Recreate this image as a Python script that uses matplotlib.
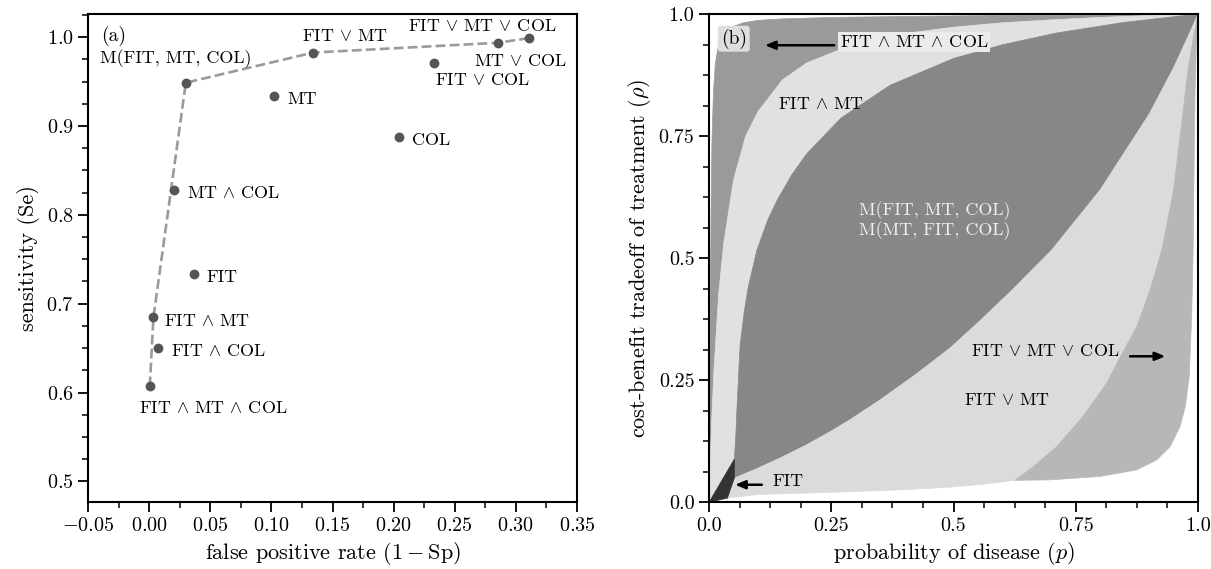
import numpy as np
import matplotlib
matplotlib.use("Agg")
import matplotlib.pyplot as plt
from matplotlib.ticker import MultipleLocator, FuncFormatter, FixedLocator, FixedFormatter

plt.rcParams['font.family'] = 'serif'
plt.rcParams['font.serif'] = ['cmr10', 'DejaVu Serif']
plt.rcParams['mathtext.fontset'] = 'cm'
plt.rcParams['axes.formatter.use_mathtext'] = True

# ---------------- data: panel (a) ----------------
test_names = ['FIT∧MT∧COL', 'FIT∧COL', 'FIT∧MT', 'FIT', 'MT∧COL', 'M(FIT,MT,COL)',
              'MT', 'FIT∨MT', 'COL', 'FIT∨COL', 'MT∨COL', 'FIT∨MT∨COL']
test_fpr = [0.0005, 0.0074, 0.0035, 0.0363, 0.0207, 0.030, 0.1018, 0.1343, 0.204, 0.2326, 0.285, 0.311]
test_se = [0.607, 0.650, 0.6847, 0.7336, 0.8283, 0.9487, 0.9336, 0.9826, 0.8875, 0.9703, 0.9936, 0.9989]
hull_tests = ['FIT∧MT∧COL', 'FIT∧MT', 'M(FIT,MT,COL)', 'FIT∨MT', 'MT∨COL', 'FIT∨MT∨COL']
test_labels = {
    'FIT∧MT∧COL': r'FIT $\wedge$ MT $\wedge$ COL',
    'FIT∧COL': r'FIT $\wedge$ COL',
    'FIT∧MT': r'FIT $\wedge$ MT',
    'FIT': 'FIT',
    'MT∧COL': r'MT $\wedge$ COL',
    'M(FIT,MT,COL)': 'M(FIT, MT, COL)',
    'MT': 'MT',
    'FIT∨MT': r'FIT $\vee$ MT',
    'COL': 'COL',
    'FIT∨COL': r'FIT $\vee$ COL',
    'MT∨COL': r'MT $\vee$ COL',
    'FIT∨MT∨COL': r'FIT $\vee$ MT $\vee$ COL',
}

# ---------------- data: panel (b) region boundaries (p, rho) ----------------
b0_p = [0, 0.0012, 0.002, 0.003, 0.0045, 0.006, 0.009, 0.013, 0.02, 0.03, 0.045, 0.07, 0.1, 0.15, 0.25, 0.4, 0.6, 0.8, 1.0]
b0_r = [0, 0.15, 0.30, 0.45, 0.62, 0.74, 0.84, 0.9, 0.94, 0.96, 0.973, 0.982, 0.987, 0.990, 0.993, 0.995, 0.997, 0.998, 1.0]

b1_p = [0, 0.001, 0.003, 0.006, 0.01, 0.02, 0.03, 0.05, 0.075, 0.1, 0.15, 0.2, 0.3, 0.4, 0.5, 0.6, 0.7, 0.8, 0.9, 1.0]
b1_r = [0, 0.036, 0.10, 0.18, 0.27, 0.43, 0.53, 0.66, 0.75, 0.80, 0.865, 0.90, 0.94, 0.96, 0.973, 0.982, 0.988, 0.993, 0.997, 1.0]

b2_p = [0.0518, 0.0545, 0.0575, 0.0634, 0.072, 0.080, 0.0975, 0.12, 0.14, 0.17, 0.2, 0.27, 0.37, 0.5, 0.6, 0.71, 0.85, 1.0]
b2_r = [0.0885, 0.13, 0.2, 0.32, 0.39, 0.44, 0.515, 0.578, 0.62, 0.672, 0.714, 0.787, 0.854, 0.909, 0.937, 0.961, 0.983, 1.0]

b3_p = [0.0518, 0.1, 0.15, 0.2, 0.25, 0.288, 0.35, 0.42, 0.493, 0.55, 0.62, 0.701, 0.8, 0.9, 0.95, 0.98, 1.0]
b3_r = [0.0496, 0.07, 0.093, 0.118, 0.146, 0.169, 0.21, 0.26, 0.316, 0.368, 0.435, 0.517, 0.64, 0.795, 0.89, 0.955, 1.0]

b4_p = [0.626, 0.663, 0.711, 0.765, 0.813, 0.847, 0.875, 0.902, 0.926, 0.95, 0.967, 0.98, 0.992, 1.0]
b4_r = [0.045, 0.073, 0.114, 0.176, 0.244, 0.309, 0.36, 0.435, 0.517, 0.64, 0.78, 0.89, 0.96, 1.0]

b5_p = [0.626, 0.697, 0.80, 0.875, 0.9155, 0.943, 0.963, 0.974, 0.982, 0.987, 0.990, 0.992, 0.994, 0.997, 1.0]
b5_r = [0.045, 0.046, 0.053, 0.0666, 0.087, 0.114, 0.155, 0.196, 0.258, 0.381, 0.517, 0.70, 0.85, 0.95, 1.0]

bb_p = [0.0375, 0.1, 0.2, 0.3, 0.4, 0.493, 0.56, 0.626]
bb_r = [0.0086, 0.016, 0.019, 0.022, 0.026, 0.031, 0.037, 0.045]

fit_p = [0.0, 0.0518, 0.0518, 0.0375]
fit_r = [0.0, 0.0885, 0.0496, 0.0086]

region_colors = {
    'FIT∧MT∧COL': '#9a9a9a',
    'FIT∧MT': '#e1e1e1',
    'M': '#878787',
    'FIT∨MT': '#dbdbdb',
    'FIT∨MT∨COL': '#b7b7b7',
    'FIT': '#333333',
}

# ---------------- figure ----------------
fig = plt.figure(figsize=(12.11, 5.69), dpi=100)
axA = fig.add_axes([0.0727, 0.1172, 0.4038, 0.8582])
axB = fig.add_axes([0.5855, 0.1172, 0.4038, 0.8582])

FS_TICK = 14.5
FS_LAB = 16
FS_ANN = 13

for ax in (axA, axB):
    for s in ax.spines.values():
        s.set_linewidth(1.5)
    ax.tick_params(which='major', direction='out', length=7, width=1.3, labelsize=FS_TICK)
    ax.tick_params(which='minor', direction='out', length=4, width=1.1)

# ---- panel (a)
idx = {n: i for i, n in enumerate(test_names)}
hx = [test_fpr[idx[n]] for n in hull_tests]
hy = [test_se[idx[n]] for n in hull_tests]
axA.plot(hx, hy, linestyle='--', color='#9a9a9a', lw=1.9, zorder=2)
axA.scatter(test_fpr, test_se, s=50, color='#555555', zorder=3, linewidths=0)

label_pos = {
    'FIT∧MT∧COL': (0.0526, 0.5826, 'center'),
    'FIT∧COL': (0.0567, 0.6467, 'center'),
    'FIT∧MT': (0.0474, 0.6805, 'center'),
    'FIT': (0.0596, 0.7295, 'center'),
    'MT∧COL': (0.0694, 0.8243, 'center'),
    'M(FIT,MT,COL)': (0.0218, 0.9760, 'center'),
    'MT': (0.1249, 0.9304, 'center'),
    'FIT∨MT': (0.160, 1.001, 'center'),
    'COL': (0.2307, 0.8838, 'center'),
    'FIT∨COL': (0.2723, 0.9512, 'center'),
    'MT∨COL': (0.3040, 0.9736, 'center'),
    'FIT∨MT∨COL': (0.2726, 1.0124, 'center'),
}
for n in test_names:
    x, y, ha = label_pos[n]
    axA.text(x, y, test_labels[n], fontsize=FS_ANN, ha=ha, va='center', zorder=4)

axA.set_xlim(-0.05, 0.35)
axA.set_ylim(0.4765, 1.026)
axA.xaxis.set_major_locator(MultipleLocator(0.05))
axA.xaxis.set_minor_locator(MultipleLocator(0.025))
axA.yaxis.set_major_locator(MultipleLocator(0.1))
axA.yaxis.set_minor_locator(MultipleLocator(0.025))
axA.xaxis.set_major_formatter(FuncFormatter(lambda v, pos: r'$%.2f$' % (0.0 if abs(v) < 1e-9 else v)))
axA.yaxis.set_major_formatter(FuncFormatter(lambda v, pos: r'$%.1f$' % v))
axA.set_xlabel(r'false positive rate $(1 - \mathrm{Sp})$', fontsize=FS_LAB)
axA.set_ylabel('sensitivity (Se)', fontsize=FS_LAB)
axA.text(0.026, 0.976, '(a)', transform=axA.transAxes, fontsize=14, ha='left', va='top')

# ---- panel (b)
def poly(*segs):
    xs, ys = [], []
    for px, py in segs:
        xs += list(px)
        ys += list(py)
    return xs, ys

regions = [
    ('FIT∧MT∧COL', poly((b0_p, b0_r), (b1_p[::-1], b1_r[::-1]))),
    ('FIT∧MT', poly((b1_p, b1_r), (b2_p[::-1], b2_r[::-1]))),
    ('M', poly((b2_p, b2_r), (b3_p[::-1], b3_r[::-1]))),
    ('FIT∨MT', poly((b3_p, b3_r), (b4_p[::-1], b4_r[::-1]), (bb_p[::-1], bb_r[::-1]))),
    ('FIT∨MT∨COL', poly((b4_p, b4_r), (b5_p[::-1], b5_r[::-1]))),
    ('FIT', (fit_p, fit_r)),
]
for name, (xs, ys) in regions:
    c = region_colors[name]
    axB.fill(xs, ys, facecolor=c, edgecolor=c, lw=0.5, zorder=1)

axB.set_xlim(0, 1)
axB.set_ylim(0, 1)
ticks_b = [0, 0.25, 0.5, 0.75, 1.0]
tick_lbl_b = ['0.0', '0.25', '0.5', '0.75', '1.0']
for axis in (axB.xaxis, axB.yaxis):
    axis.set_major_locator(FixedLocator(ticks_b))
    axis.set_major_formatter(FixedFormatter(tick_lbl_b))
    axis.set_minor_locator(MultipleLocator(0.0625))
axB.set_xlabel(r'probability of disease ($p$)', fontsize=FS_LAB)
axB.set_ylabel(r'cost-benefit tradeoff of treatment ($\rho$)', fontsize=FS_LAB)

axB.text(0.024, 0.97, '(b)', transform=axB.transAxes, fontsize=14, ha='left', va='top',
         bbox=dict(boxstyle='round,pad=0.15', facecolor='#dedede', edgecolor='none'), zorder=5)

arrow_kw = dict(arrowstyle='-|>,head_width=0.25,head_length=0.6', lw=1.8, color='k',
                shrinkA=0, shrinkB=0)
axB.text(0.268, 0.943, r'FIT $\wedge$ MT $\wedge$ COL', fontsize=FS_ANN, ha='left', va='center',
         bbox=dict(boxstyle='square,pad=0.1', facecolor='#ebebeb', edgecolor='none'), zorder=5)
axB.annotate('', xy=(0.1145, 0.936), xytext=(0.256, 0.936), arrowprops=arrow_kw, zorder=5)

axB.text(0.229, 0.8155, r'FIT $\wedge$ MT', fontsize=FS_ANN, ha='center', va='center', zorder=5)
axB.text(0.461, 0.598, 'M(FIT, MT, COL)', fontsize=FS_ANN, ha='center', va='center',
         color='#f2f2f2', zorder=5)
axB.text(0.461, 0.557, 'M(MT, FIT, COL)', fontsize=FS_ANN, ha='center', va='center',
         color='#f2f2f2', zorder=5)
axB.text(0.687, 0.309, r'FIT $\vee$ MT $\vee$ COL', fontsize=FS_ANN, ha='center', va='center', zorder=5)
axB.annotate('', xy=(0.933, 0.299), xytext=(0.861, 0.299), arrowprops=arrow_kw, zorder=5)
axB.text(0.609, 0.2086, r'FIT $\vee$ MT', fontsize=FS_ANN, ha='center', va='center', zorder=5)
axB.text(0.1615, 0.043, 'FIT', fontsize=FS_ANN, ha='center', va='center', zorder=5)
axB.annotate('', xy=(0.0532, 0.036), xytext=(0.108, 0.036), arrowprops=arrow_kw, zorder=5)

fig.savefig('out.png', dpi=100)
